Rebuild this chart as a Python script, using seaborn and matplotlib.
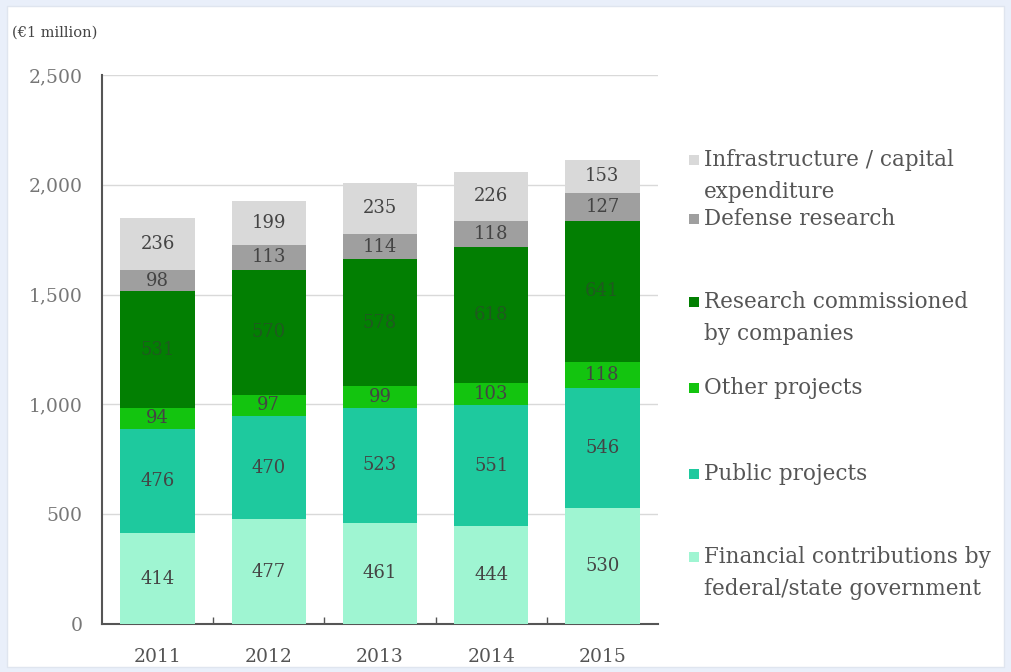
import matplotlib
matplotlib.use("Agg")
import matplotlib.pyplot as plt
import seaborn as sns
import numpy as np
from matplotlib.patches import Rectangle

years = ["2011", "2012", "2013", "2014", "2015"]

# stacked from bottom to top
financial = [414, 477, 461, 444, 530]
public = [476, 470, 523, 551, 546]
other = [94, 97, 99, 103, 118]
commissioned = [531, 570, 578, 618, 641]
defense = [98, 113, 114, 118, 127]
infrastructure = [236, 199, 235, 226, 153]

series = [
    ("Financial contributions by\nfederal/state government", financial, "#9ff5d2", "#444444"),
    ("Public projects", public, "#1ec99e", "#444444"),
    ("Other projects", other, "#13c40f", "#444444"),
    ("Research commissioned\nby companies", commissioned, "#027f02", "#1f5a1f"),
    ("Defense research", defense, "#9f9f9f", "#444444"),
    ("Infrastructure / capital\nexpenditure", infrastructure, "#d9d9d9", "#444444"),
]

sns.set_theme(style="white")
plt.rcParams["font.family"] = ["DejaVu Serif"]

W, H = 1011, 672
fig = plt.figure(figsize=(W / 100, H / 100), dpi=100)
fig.patch.set_facecolor("#e9effa")
fig.add_artist(Rectangle((7 / W, 1 - 667 / H), 997 / W, 661 / H, transform=fig.transFigure,
                         facecolor="white", edgecolor="#dfe5ef", lw=1, zorder=0))

ax = fig.add_axes([102 / W, 1 - 624 / H, 556 / W, 549 / H])
ax.set_facecolor("none")

bottom = np.zeros(len(years))
for name, vals, col, tcol in series:
    sns.barplot(x=years, y=vals, bottom=bottom, color=col, width=0.67, ax=ax,
                saturation=1, linewidth=0, zorder=3)
    ax.bar_label(ax.containers[-1], labels=[str(v) for v in vals], label_type="center",
                 color=tcol, fontsize=13)
    bottom += np.array(vals)

ax.set_ylim(0, 2500)
ax.set_xlim(-0.5, 4.5)
ax.set_yticks(range(0, 2501, 500))
ax.set_yticklabels([f"{v:,}" for v in range(0, 2501, 500)])
ax.yaxis.grid(True, color="#d9d9d9", lw=1, zorder=0)
ax.set_axisbelow(True)
for s in ["top", "right"]:
    ax.spines[s].set_visible(False)
ax.spines["left"].set_color("#555555")
ax.spines["bottom"].set_color("#555555")
ax.spines["left"].set_linewidth(1.5)
ax.spines["bottom"].set_linewidth(1.5)
ax.set_xticks([0.5, 1.5, 2.5, 3.5], minor=True)
ax.tick_params(axis="x", which="minor", direction="in", length=5, color="#555555", bottom=True)
ax.tick_params(axis="x", which="major", length=0, pad=17, labelsize=13.5, labelcolor="#555555")
ax.tick_params(axis="y", length=0, pad=14, labelsize=13.5, labelcolor="#777777")
ax.set_xlabel("")
ax.set_ylabel("")

fig.text(12 / W, 1 - 33 / H, "(€1 million)", fontsize=10.5, color="#444444", va="center")

# legend drawn manually to keep the original uneven spacing
legend_y = [160, 219, 302, 388, 474, 557]
for (name, vals, col, tcol), yy in zip(series[::-1], legend_y):
    fig.add_artist(Rectangle((689 / W, 1 - (yy + 5) / H), 10 / W, 10 / H,
                             transform=fig.transFigure, facecolor=col, edgecolor="none"))
    for i, line in enumerate(name.split("\n")):
        fig.text(704 / W, 1 - (yy + 32 * i) / H, line, fontsize=15.5, color="#555555", va="center")

fig.savefig("out.png", dpi=100, facecolor=fig.get_facecolor())
